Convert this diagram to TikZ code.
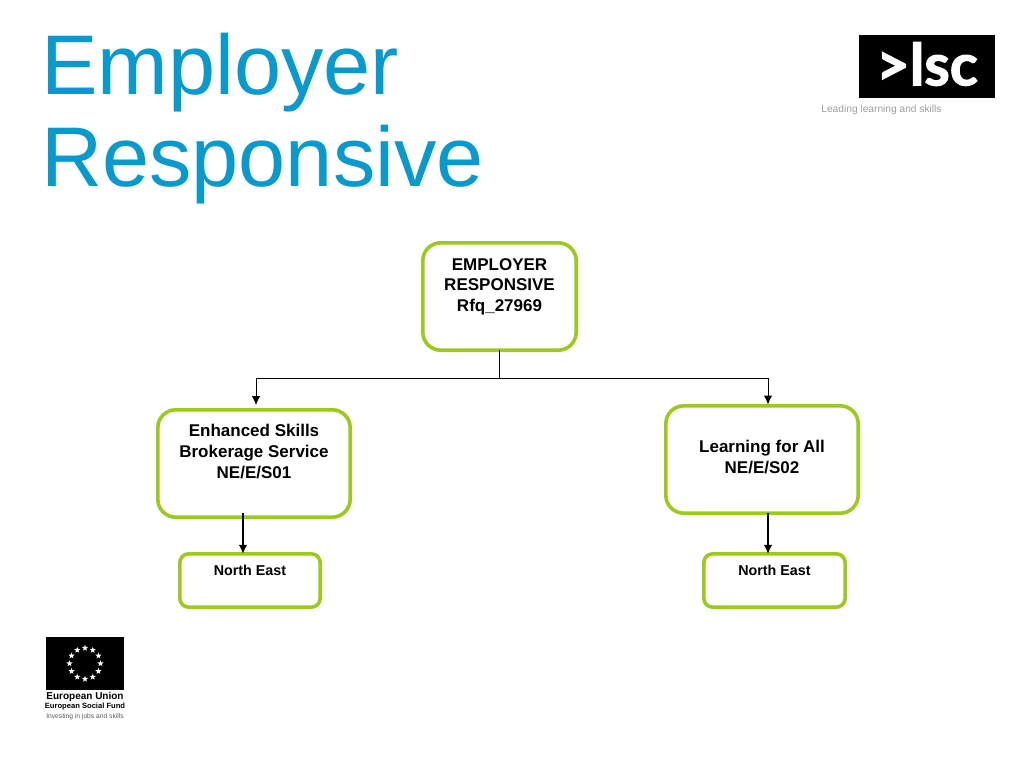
\documentclass[tikz,border=0pt]{standalone}
\usepackage{fontspec}
\setmainfont{Liberation Sans}
\newfontfamily\logofont[BoldFeatures={FakeBold=2}]{Lato}
\usetikzlibrary{shapes.geometric,arrows.meta,calc}
\definecolor{titleblue}{HTML}{0999CC}
\definecolor{boxgreen}{HTML}{9DC81E}
\tikzset{
  x=1pt,y=-1pt,
  flowbox/.style={draw=boxgreen,line width=3.6pt,fill=white,rounded corners=18pt,inner sep=0pt,outer sep=0pt,anchor=north west,font=\bfseries\fontsize{17}{20.7}\selectfont},
  smallbox/.style={flowbox,rounded corners=9pt,font=\bfseries\fontsize{14.3}{17}\selectfont},
  link/.style={draw=black,line width=1pt},
  arrowlink/.style={link,-{Latex[length=9pt,width=8.5pt]}},
  downlink/.style={arrowlink,line width=1.4pt},
  eustar/.style={star,star points=5,star point ratio=2.4,fill=white,inner sep=0pt,minimum size=6.5pt},
}
% width, height, space above the first line, text
\newcommand{\boxtext}[4]{\parbox[c][#2pt][t]{#1pt}{\vspace*{#3pt}\centering #4\par}}
\begin{document}
\begin{tikzpicture}
\useasboundingbox (0,0) rectangle (1024,768);
\fill[white] (0,0) rectangle (1024,768);
% title
\node[anchor=north west,inner sep=0pt,align=left,text=titleblue,font=\fontsize{84.7}{92}\selectfont] (title) at (41,32.5) {Employer\\Responsive};
% logo
\node[fill=black,minimum width=136pt,minimum height=63pt,inner sep=0pt,anchor=north west] (logo) at (859,35) {};
\node[text=white,inner sep=0pt,font=\logofont\bfseries\fontsize{58}{58}\selectfont] (logotext) at (927,64) {>lsc};
\node[inner sep=0pt,text=black!38,font=\fontsize{10.2}{12}\selectfont] (tagline) at (881.5,110) {Leading learning and skills};
% boxes
\node[flowbox] (root) at (422.8,242.8) {\boxtext{153.4}{107.4}{15.5}{EMPLOYER\\RESPONSIVE\\Rfq\_27969}};
\node[flowbox] (left) at (157.8,409.8) {\boxtext{192.4}{107.4}{14.5}{Enhanced Skills\\Brokerage Service\\NE/E/S01}};
\node[flowbox] (right) at (665.8,405.8) {\boxtext{192.4}{107.4}{34.5}{Learning for All\\NE/E/S02}};
\node[smallbox] (ne1) at (179.8,553.8) {\boxtext{140.4}{53.4}{11}{North East}};
\node[smallbox] (ne2) at (703.8,553.8) {\boxtext{141.4}{53.4}{11}{North East}};
% connectors
\coordinate (fork) at (root.south |- 0,378);
\coordinate (lefttip) at (256,405);
\coordinate (righttip) at (768,404.5);
\draw[link] (root.south) -- (fork);
\draw[arrowlink] (fork) -| (lefttip);
\draw[arrowlink] (fork) -| (righttip);
\coordinate (ne1start) at (243,513);
\coordinate (ne2start) at (768,513);
\draw[downlink] (ne1start) -- (ne1start |- ne1.north);
\draw[downlink] (ne2start) -- (ne2start |- ne2.north);
% EU logo
\node[fill=black,minimum width=78pt,minimum height=53pt,inner sep=0pt,anchor=north west] (eu) at (46,637) {};
\foreach \a in {0,30,...,330} \node[eustar] at ($(85,663.5)+(\a+90:15.5)$) {};
\node[inner sep=0pt,font=\bfseries\fontsize{10}{11}\selectfont] (eu1) at (85,696.5) {European Union};
\node[inner sep=0pt,font=\bfseries\fontsize{7.6}{9}\selectfont] (eu2) at (85,707) {European Social Fund};
\node[inner sep=0pt,text=black!65,font=\fontsize{6.7}{8}\selectfont] (eu3) at (85,716.5) {Investing in jobs and skills};
\end{tikzpicture}
\end{document}
